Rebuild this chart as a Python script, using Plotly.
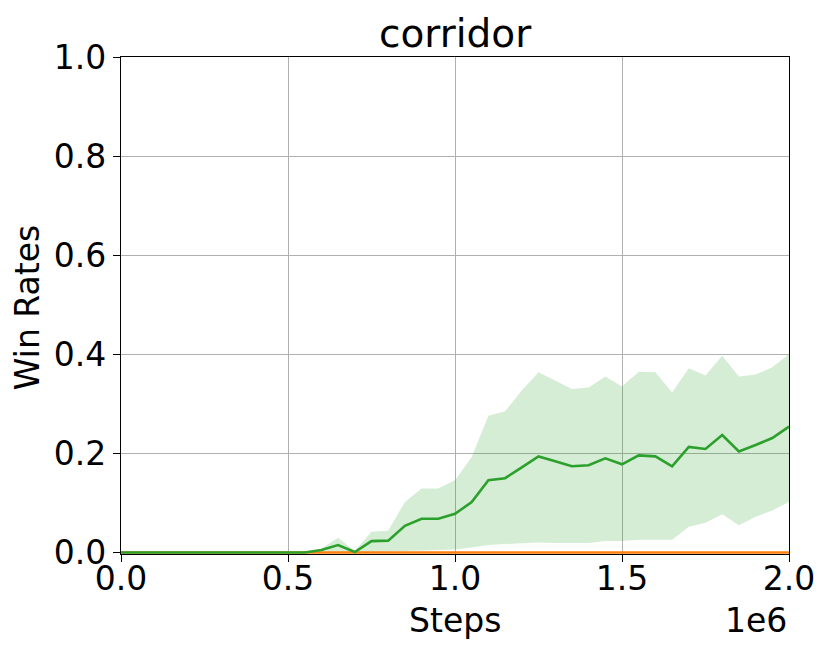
import plotly.graph_objects as go

steps = [i * 50000 for i in range(41)]

green_mean = [0]*12 + [0.005, 0.015, 0.001, 0.023, 0.024, 0.054, 0.068, 0.068, 0.078, 0.102,
                       0.146, 0.150, 0.172, 0.194, 0.184, 0.174, 0.176, 0.190, 0.178, 0.196,
                       0.194, 0.174, 0.213, 0.209, 0.237, 0.204, 0.217, 0.231, 0.254]
green_upper = [0]*12 + [0.008, 0.030, 0.003, 0.042, 0.044, 0.102, 0.129, 0.129, 0.146, 0.193,
                        0.276, 0.285, 0.327, 0.364, 0.347, 0.330, 0.333, 0.355, 0.335, 0.365,
                        0.364, 0.323, 0.372, 0.357, 0.397, 0.355, 0.359, 0.374, 0.400]
green_lower = [0]*15 + [0.001, 0.002, 0.003, 0.004, 0.005, 0.006, 0.010,
                        0.015, 0.017, 0.018, 0.020, 0.019, 0.019, 0.019, 0.023, 0.023, 0.026,
                        0.026, 0.026, 0.052, 0.060, 0.077, 0.055, 0.072, 0.085, 0.102]
orange_mean = [0]*41

x_tickvals = [0, 500000, 1000000, 1500000, 2000000]
x_ticktext = ["0.0", "0.5", "1.0", "1.5", "2.0"]
y_tickvals = [0, 0.2, 0.4, 0.6, 0.8, 1.0]
y_ticktext = ["0.0", "0.2", "0.4", "0.6", "0.8", "1.0"]

FONT = "DejaVu Sans"

fig = go.Figure()
fig.add_trace(go.Scatter(x=steps, y=green_upper, mode="lines", line=dict(width=0),
                         showlegend=False, hoverinfo="skip"))
fig.add_trace(go.Scatter(x=steps, y=green_lower, mode="lines", line=dict(width=0),
                         fill="tonexty", fillcolor="rgba(44,160,44,0.2)",
                         showlegend=False, hoverinfo="skip"))
fig.add_trace(go.Scatter(x=steps, y=orange_mean, mode="lines",
                         line=dict(color="#ff7f0e", width=2.6), showlegend=False))
fig.add_trace(go.Scatter(x=steps, y=green_mean, mode="lines",
                         line=dict(color="#2ca02c", width=2.6), showlegend=False))

axis_common = dict(
    showgrid=True, gridcolor="#b0b0b0", gridwidth=1.1,
    showline=True, linecolor="black", linewidth=1.3, mirror=True,
    ticks="outside", ticklen=7, tickwidth=1.3, tickcolor="black",
    zeroline=False, automargin=False,
    tickfont=dict(family=FONT, size=33, color="black"),
)

txt = dict(family=FONT, size=33, color="black")

fig.update_layout(
    width=830, height=654,
    margin=dict(l=121, r=41, t=57, b=100),
    plot_bgcolor="white", paper_bgcolor="white",
    xaxis=dict(range=[0, 2000000], tickvals=x_tickvals, ticktext=x_ticktext,
               ticklabelstandoff=-12, **axis_common),
    yaxis=dict(range=[-0.003, 1], tickvals=y_tickvals, ticktext=y_ticktext,
               **axis_common),
    annotations=[
        dict(text="corridor", xref="paper", yref="paper", x=0.5, y=1.0477,
             xanchor="center", yanchor="middle", showarrow=False,
             font=dict(family=FONT, size=39, color="black")),
        dict(text="Steps", xref="paper", yref="paper", x=0.5, y=-0.1348,
             xanchor="center", yanchor="middle", showarrow=False, font=txt),
        dict(text="Win Rates", xref="paper", yref="paper", x=-0.139, y=0.495,
             xanchor="center", yanchor="middle", textangle=-90, showarrow=False, font=txt),
        dict(text="1e6", xref="paper", yref="paper", x=1.0, y=-0.1328,
             xanchor="right", yanchor="middle", showarrow=False, font=txt),
    ],
)

fig.write_html("out.html", config={"displayModeBar": False},
               post_script="document.body.style.margin='0';document.body.style.padding='0';")
